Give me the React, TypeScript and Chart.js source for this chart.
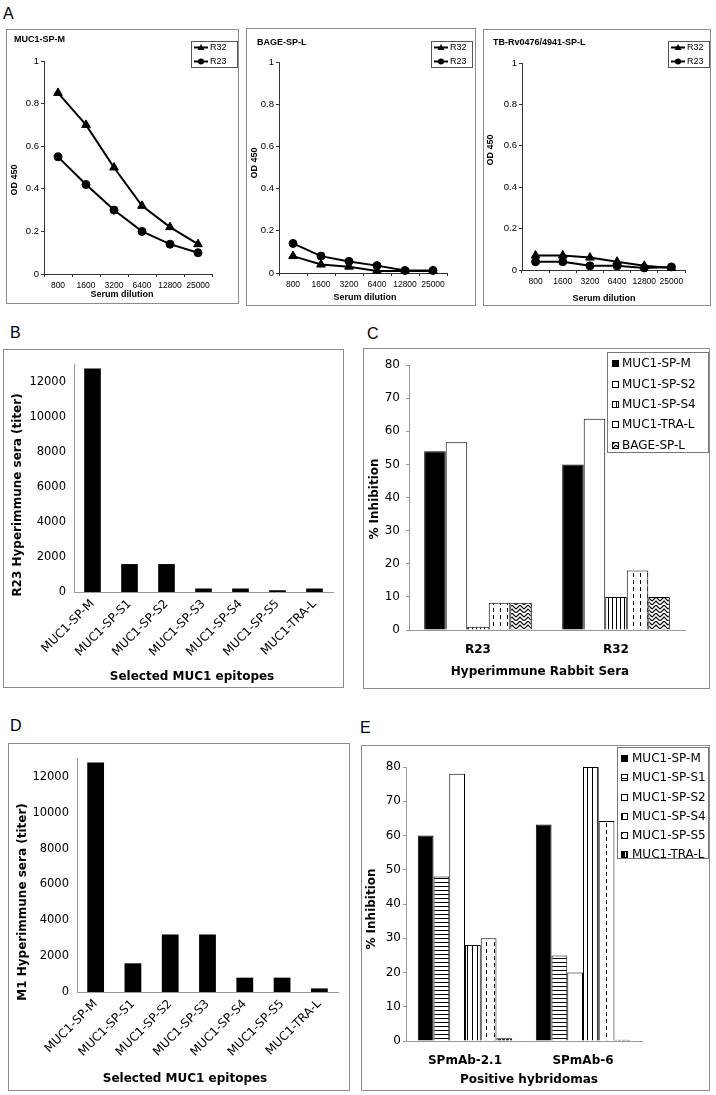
import React, { useEffect, useRef } from 'react';
import { Chart, registerables } from 'chart.js';

Chart.register(...registerables);

// ---------- DATA ----------
const dilutions = ['800', '1600', '3200', '6400', '12800', '25000'];
const mucM_R32 = [0.85, 0.7, 0.5, 0.32, 0.22, 0.14];
const mucM_R23 = [0.55, 0.42, 0.3, 0.2, 0.14, 0.1];
const bage_R32 = [0.08, 0.04, 0.03, 0.01, 0.01, 0.01];
const bage_R23 = [0.14, 0.08, 0.055, 0.035, 0.012, 0.012];
const tb_R32 = [0.07, 0.07, 0.06, 0.04, 0.02, 0.01];
const tb_R23 = [0.04, 0.04, 0.02, 0.02, 0.01, 0.015];
const odTicks = [0, 0.2, 0.4, 0.6, 0.8, 1];

const epitopes = ['MUC1-SP-M', 'MUC1-SP-S1', 'MUC1-SP-S2', 'MUC1-SP-S3', 'MUC1-SP-S4', 'MUC1-SP-S5', 'MUC1-TRA-L'];
const r23Titers = [12800, 1600, 1600, 200, 200, 100, 200];
const m1Titers = [12800, 1600, 3200, 3200, 800, 800, 200];
const titerTicks = [0, 2000, 4000, 6000, 8000, 10000, 12000];
const titerMax = 13000;

const seraGroups = ['R23', 'R32'];
const cSPM = [54, 50];
const cSPS2 = [56.7, 63.8];
const cSPS4 = [1, 10];
const cTRAL = [8.2, 18];
const cBAGE = [8.2, 10];

const hybridomas = ['SPmAb-2.1', 'SPmAb-6'];
const eSPM = [60, 63.2];
const eSPS1 = [48, 25];
const eSPS2 = [78, 20];
const eSPS4 = [28, 80];
const eSPS5 = [30, 64.2];
const eTRAL = [0.8, 0.4];
const inhibTicks = [0, 10, 20, 30, 40, 50, 60, 70, 80];
const inhibMax = 80;

// ---------- STYLE ----------
const fA = "'Liberation Sans', Arial, sans-serif";
const fV = "'DejaVu Sans', Verdana, sans-serif";

type TextItem = { text: string; x: number; y: number; font: string; rotate?: boolean; align?: CanvasTextAlign };

function textPlugin(items: TextItem[]) {
  return {
    id: 'texts',
    afterDraw(chart: any) {
      const ctx = chart.ctx as CanvasRenderingContext2D;
      ctx.save();
      ctx.fillStyle = '#000';
      ctx.textBaseline = 'middle';
      for (const t of items) {
        ctx.save();
        ctx.font = t.font;
        ctx.translate(t.x, t.y);
        if (t.rotate) ctx.rotate(-Math.PI / 2);
        ctx.textAlign = t.align ?? 'center';
        ctx.fillText(t.text, 0, 0);
        ctx.restore();
      }
      ctx.restore();
    },
  };
}

type LBox = { x: number; y: number; w: number; h: number; rows: number[] };

function lineLegend(box: LBox) {
  return {
    id: 'lineLegend',
    afterDraw(chart: any) {
      const ctx = chart.ctx as CanvasRenderingContext2D;
      ctx.save();
      ctx.fillStyle = '#fff';
      ctx.fillRect(box.x, box.y, box.w, box.h);
      ctx.strokeStyle = '#555';
      ctx.lineWidth = 1;
      ctx.strokeRect(box.x + 0.5, box.y + 0.5, box.w - 1, box.h - 1);
      chart.data.datasets.forEach((ds: any, i: number) => {
        const y = box.rows[i];
        ctx.strokeStyle = '#000';
        ctx.lineWidth = 2;
        ctx.beginPath();
        ctx.moveTo(box.x + 3, y);
        ctx.lineTo(box.x + 17, y);
        ctx.stroke();
        ctx.fillStyle = '#000';
        const cx = box.x + 10;
        ctx.beginPath();
        if (ds.pointStyle === 'triangle') {
          ctx.moveTo(cx, y - 3.5);
          ctx.lineTo(cx + 3.5, y + 2.5);
          ctx.lineTo(cx - 3.5, y + 2.5);
          ctx.closePath();
        } else {
          ctx.arc(cx, y, 3, 0, Math.PI * 2);
        }
        ctx.fill();
        ctx.font = `9px ${fA}`;
        ctx.textBaseline = 'middle';
        ctx.textAlign = 'left';
        ctx.fillText(ds.label, box.x + 19, y);
      });
      ctx.restore();
    },
  };
}

type BBox = { x: number; y: number; w: number; h: number; rows: number[]; markX: number; textX: number };

function barLegend(box: BBox) {
  return {
    id: 'barLegend',
    afterDraw(chart: any) {
      const ctx = chart.ctx as CanvasRenderingContext2D;
      ctx.save();
      ctx.fillStyle = '#fff';
      ctx.fillRect(box.x, box.y, box.w, box.h);
      ctx.strokeStyle = '#777';
      ctx.lineWidth = 1;
      ctx.strokeRect(box.x + 0.5, box.y + 0.5, box.w - 1, box.h - 1);
      chart.data.datasets.forEach((ds: any, i: number) => {
        const y = box.rows[i];
        const s = 7;
        ctx.fillStyle = ds.backgroundColor;
        ctx.fillRect(box.markX, Math.round(y - s / 2), s, s);
        ctx.strokeStyle = '#000';
        ctx.lineWidth = 1;
        ctx.strokeRect(box.markX + 0.5, Math.round(y - s / 2) + 0.5, s - 1, s - 1);
        ctx.fillStyle = '#000';
        ctx.font = `12px ${fV}`;
        ctx.textBaseline = 'middle';
        ctx.textAlign = 'left';
        ctx.fillText(ds.label, box.textX, y + 0.5);
      });
      ctx.restore();
    },
  };
}

function makePattern(w: number, h: number, draw: (x: CanvasRenderingContext2D) => void) {
  const c = document.createElement('canvas');
  c.width = w;
  c.height = h;
  const x = c.getContext('2d')!;
  x.fillStyle = '#fff';
  x.fillRect(0, 0, w, h);
  x.fillStyle = '#000';
  x.strokeStyle = '#000';
  draw(x);
  return x.createPattern(c, 'repeat')!;
}

function patterns() {
  return {
    vlines5: makePattern(5, 4, (x) => x.fillRect(0, 0, 1, 4)),
    vlines4: makePattern(4, 4, (x) => x.fillRect(0, 0, 1, 4)),
    hlines4: makePattern(4, 4, (x) => x.fillRect(0, 0, 4, 1)),
    dash7: makePattern(7, 7, (x) => x.fillRect(3, 0, 1, 4)),
    dash8: makePattern(8, 7, (x) => x.fillRect(4, 0, 1, 4)),
    stripes: makePattern(4, 4, (x) => x.fillRect(0, 0, 3, 4)),
    weave: makePattern(8, 8, (x) => {
      x.lineWidth = 1.2;
      x.beginPath();
      x.moveTo(0, 4);
      x.lineTo(4, 0);
      x.lineTo(8, 4);
      x.moveTo(0, 8);
      x.lineTo(4, 4);
      x.lineTo(8, 8);
      x.stroke();
    }),
  };
}

type Area = { l: number; t: number; r: number; b: number };

const setTicks = (vals: number[]) => (s: any) => {
  s.ticks = vals.map((v) => ({ value: v }));
};
const plainLabel = (v: any) => String(Math.round(Number(v) * 100) / 100);

function odConfig(W: number, H: number, a: Area, r32: number[], r23: number[], texts: TextItem[], lbox: LBox) {
  const ds = (label: string, data: number[], style: string, radius: number) => ({
    label,
    data,
    borderColor: '#000',
    backgroundColor: '#000',
    borderWidth: 2,
    pointStyle: style,
    pointRadius: radius,
    pointBackgroundColor: '#000',
    pointBorderColor: '#000',
    pointBorderWidth: 1,
    tension: 0,
    clip: false,
  });
  return {
    type: 'line',
    data: { labels: dilutions, datasets: [ds('R32', r32, 'triangle', 5), ds('R23', r23, 'circle', 4)] },
    options: {
      responsive: false,
      animation: false,
      layout: { padding: { left: 0, top: a.t, right: W - a.r, bottom: 0 } },
      plugins: { legend: { display: false }, tooltip: { enabled: false } },
      scales: {
        x: {
          type: 'category',
          offset: true,
          grid: { offset: true, drawOnChartArea: false, drawTicks: true, tickLength: 3, color: '#333' },
          border: { color: '#333' },
          ticks: { font: { family: fA, size: 8.5 }, color: '#000', padding: 4, maxRotation: 0, autoSkip: false },
          afterFit: (s: any) => { s.height = H - a.b; },
        },
        y: {
          min: 0,
          max: 1,
          afterBuildTicks: setTicks(odTicks),
          ticks: { font: { family: fA, size: 9.5 }, color: '#000', padding: 2, callback: plainLabel },
          grid: { drawOnChartArea: false, drawTicks: true, tickLength: 3, color: '#333' },
          border: { color: '#333' },
          afterFit: (s: any) => { s.width = a.l; },
        },
      },
    },
    plugins: [textPlugin(texts), lineLegend(lbox)],
  };
}

function titerConfig(W: number, H: number, a: Area, values: number[], texts: TextItem[]) {
  return {
    type: 'bar',
    data: {
      labels: epitopes,
      datasets: [{ label: 'titer', data: values, backgroundColor: '#000', borderWidth: 0, barPercentage: 0.45, categoryPercentage: 1 }],
    },
    options: {
      responsive: false,
      animation: false,
      layout: { padding: { left: 0, top: a.t, right: W - a.r, bottom: 0 } },
      plugins: { legend: { display: false }, tooltip: { enabled: false } },
      scales: {
        x: {
          grid: { display: false, drawTicks: false },
          border: { color: '#999' },
          ticks: { font: { family: fV, size: 12 }, color: '#000', padding: 5, minRotation: 45, maxRotation: 45, autoSkip: false },
          afterFit: (s: any) => { s.height = H - a.b; },
        },
        y: {
          min: 0,
          max: titerMax,
          afterBuildTicks: setTicks(titerTicks),
          ticks: { font: { family: fV, size: 11.5 }, color: '#000', padding: 8, callback: plainLabel },
          grid: { display: false, drawTicks: false },
          border: { color: '#999' },
          afterFit: (s: any) => { s.width = a.l; },
        },
      },
    },
    plugins: [textPlugin(texts)],
  };
}

function inhibConfig(
  W: number, H: number, a: Area, labels: string[], datasets: any[], catPct: number,
  texts: TextItem[], lbox: BBox, yPad: number,
) {
  return {
    type: 'bar',
    data: {
      labels,
      datasets: datasets.map((d) => ({ ...d, borderColor: '#000', borderWidth: 1, barPercentage: 1, categoryPercentage: catPct })),
    },
    options: {
      responsive: false,
      animation: false,
      layout: { padding: { left: 0, top: a.t, right: W - a.r, bottom: 0 } },
      plugins: { legend: { display: false }, tooltip: { enabled: false } },
      scales: {
        x: {
          grid: { display: false, drawTicks: false },
          border: { color: '#999' },
          ticks: { font: { family: fV, size: 12, weight: 'bold' }, color: '#000', padding: 13, maxRotation: 0 },
          afterFit: (s: any) => { s.height = H - a.b; },
        },
        y: {
          min: 0,
          max: inhibMax,
          afterBuildTicks: setTicks(inhibTicks),
          ticks: { font: { family: fV, size: 12 }, color: '#000', padding: yPad, callback: plainLabel },
          grid: { drawOnChartArea: false, drawTicks: true, tickLength: 3, color: '#999' },
          border: { color: '#999' },
          afterFit: (s: any) => { s.width = a.l; },
        },
      },
    },
    plugins: [textPlugin(texts), barLegend(lbox)],
  };
}

type Box = { l: number; t: number; w: number; h: number };

function Panel({ box, build }: { box: Box; build: (W: number, H: number) => any }) {
  const ref = useRef<HTMLCanvasElement>(null);
  const W = box.w - 2;
  const H = box.h - 2;
  useEffect(() => {
    const chart = new Chart(ref.current!, build(W, H));
    return () => chart.destroy();
  }, []);
  return (
    <div
      style={{
        position: 'absolute', left: box.l, top: box.t, width: W, height: H,
        border: '1px solid #8c8c8c', background: '#fff',
      }}
    >
      <canvas ref={ref} width={W} height={H} style={{ display: 'block', width: W, height: H }} />
    </div>
  );
}

const labelStyle = (l: number, t: number): React.CSSProperties => ({
  position: 'absolute', left: l, top: t, fontFamily: fA, fontSize: 16, lineHeight: '16px', color: '#000',
});

const bA = `bold 9px ${fA}`;
const bV = `bold 12px ${fV}`;

export default function App() {
  return (
    <div style={{ position: 'absolute', left: 0, top: 0, width: 716, height: 1095, background: '#fff', overflow: 'hidden' }}>
      <div style={labelStyle(3, 6)}>A</div>
      <div style={labelStyle(10, 325)}>B</div>
      <div style={labelStyle(367, 326)}>C</div>
      <div style={labelStyle(10, 718)}>D</div>
      <div style={labelStyle(360, 720)}>E</div>

      <Panel
        box={{ l: 6, t: 29, w: 233, h: 275 }}
        build={(W, H) =>
          odConfig(W, H, { l: 37, t: 31, r: 205, b: 244 }, mucM_R32, mucM_R23, [
            { text: 'MUC1-SP-M', x: 7, y: 10, font: bA, align: 'left' },
            { text: 'OD 450', x: 8, y: 150, font: bA, rotate: true },
            { text: 'Serum dilution', x: 115, y: 265, font: bA },
          ], { x: 184, y: 11, w: 47, h: 27, rows: [17.5, 31.5] })
        }
      />
      <Panel
        box={{ l: 246, t: 28, w: 230, h: 278 }}
        build={(W, H) =>
          odConfig(W, H, { l: 32, t: 33, r: 200, b: 244 }, bage_R32, bage_R23, [
            { text: 'BAGE-SP-L', x: 10, y: 14, font: bA, align: 'left' },
            { text: 'OD 450', x: 8, y: 134, font: bA, rotate: true },
            { text: 'Serum dilution', x: 118, y: 269, font: bA },
          ], { x: 184, y: 12, w: 42, h: 27, rows: [18.5, 32.5] })
        }
      />
      <Panel
        box={{ l: 483, t: 29, w: 228, h: 277 }}
        build={(W, H) =>
          odConfig(W, H, { l: 38, t: 33, r: 201, b: 240 }, tb_R32, tb_R23, [
            { text: 'TB-Rv0476/4941-SP-L', x: 9, y: 13, font: bA, align: 'left' },
            { text: 'OD 450', x: 7, y: 120, font: bA, rotate: true },
            { text: 'Serum dilution', x: 120, y: 269, font: bA },
          ], { x: 184, y: 11, w: 42, h: 27, rows: [17.5, 31.5] })
        }
      />

      <Panel
        box={{ l: 3, t: 349, w: 341, h: 339 }}
        build={(W, H) =>
          titerConfig(W, H, { l: 70, t: 13, r: 329, b: 242 }, r23Titers, [
            { text: 'R23 Hyperimmune sera (titer)', x: 14, y: 145, font: bV, rotate: true },
            { text: 'Selected MUC1 epitopes', x: 188, y: 327, font: bV },
          ])
        }
      />
      <Panel
        box={{ l: 8, t: 743, w: 342, h: 348 }}
        build={(W, H) =>
          titerConfig(W, H, { l: 68, t: 11, r: 329, b: 248 }, m1Titers, [
            { text: 'M1 Hyperimmune sera (titer)', x: 14, y: 158, font: bV, rotate: true },
            { text: 'Selected MUC1 epitopes', x: 176, y: 335, font: bV },
          ])
        }
      />

      <Panel
        box={{ l: 363, t: 348, w: 347, h: 341 }}
        build={(W, H) => {
          const p = patterns();
          return inhibConfig(W, H, { l: 45, t: 16, r: 321, b: 281 }, seraGroups, [
            { label: 'MUC1-SP-M', data: cSPM, backgroundColor: '#000' },
            { label: 'MUC1-SP-S2', data: cSPS2, backgroundColor: '#fff' },
            { label: 'MUC1-SP-S4', data: cSPS4, backgroundColor: p.vlines4 },
            { label: 'MUC1-TRA-L', data: cTRAL, backgroundColor: p.dash7 },
            { label: 'BAGE-SP-L', data: cBAGE, backgroundColor: p.weave },
          ], 0.78, [
            { text: '% Inhibition', x: 11, y: 150, font: bV, rotate: true },
            { text: 'Hyperimmune Rabbit Sera', x: 176, y: 323, font: bV },
          ], { x: 243, y: 3, w: 102, h: 101, rows: [14, 35, 55, 75, 96], markX: 248, textX: 258 }, 6);
        }}
      />
      <Panel
        box={{ l: 361, t: 745, w: 349, h: 346 }}
        build={(W, H) => {
          const p = patterns();
          return inhibConfig(W, H, { l: 44, t: 21, r: 280, b: 295 }, hybridomas, [
            { label: 'MUC1-SP-M', data: eSPM, backgroundColor: '#000' },
            { label: 'MUC1-SP-S1', data: eSPS1, backgroundColor: p.hlines4 },
            { label: 'MUC1-SP-S2', data: eSPS2, backgroundColor: '#fff' },
            { label: 'MUC1-SP-S4', data: eSPS4, backgroundColor: p.vlines5 },
            { label: 'MUC1-SP-S5', data: eSPS5, backgroundColor: p.dash8 },
            { label: 'MUC1-TRA-L', data: eTRAL, backgroundColor: p.stripes },
          ], 0.8, [
            { text: '% Inhibition', x: 10, y: 163, font: bV, rotate: true },
            { text: 'Positive hybridomas', x: 167, y: 334, font: bV },
          ], { x: 255, y: 1, w: 92, h: 112, rows: [12, 31, 51, 70, 89, 108], markX: 259, textX: 270 }, 2);
        }}
      />
    </div>
  );
}
